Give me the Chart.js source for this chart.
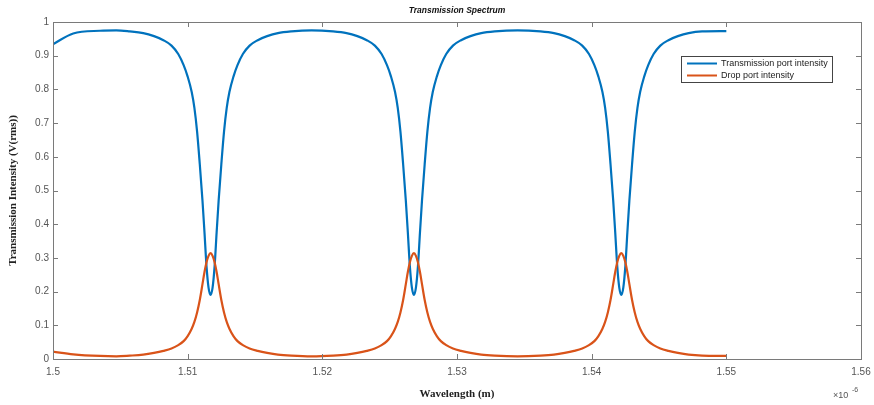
<!DOCTYPE html>
<html>
<head>
<meta charset="utf-8">
<script src="https://cdn.jsdelivr.net/npm/chart.js@4.4.1/dist/chart.umd.min.js"></script>
<style>
  html, body { margin: 0; padding: 0; background: #ffffff; }
  #wrap { width: 874px; height: 405px; position: relative; }
</style>
</head>
<body>
<div id="wrap"><canvas id="spec" width="874" height="405"></canvas></div>
<script>
// Wavelength samples (x 10^-6 m), denser around the three resonances
const wavelength = [
  1.5000, 1.5015, 1.5035, 1.5047,
  1.5057, 1.5067, 1.5075, 1.5082, 1.5088, 1.5093, 1.5097, 1.5100, 1.5103, 1.5105, 1.5107, 1.5109, 1.5111, 1.51125, 1.5114, 1.51155, 1.5117,
  1.51185, 1.5120, 1.51215, 1.5123, 1.5125, 1.5127, 1.5129, 1.5131, 1.5134, 1.5137, 1.5141, 1.5146, 1.5152, 1.5159, 1.5167, 1.5177,
  1.5192,
  1.5208, 1.5218, 1.5226, 1.5233, 1.5239, 1.5244, 1.5248, 1.5251, 1.5254, 1.5256, 1.5258, 1.5260, 1.5262, 1.52635, 1.5265, 1.52665, 1.5268,
  1.52695, 1.5271, 1.52725, 1.5274, 1.5276, 1.5278, 1.5280, 1.5282, 1.5285, 1.5288, 1.5292, 1.5297, 1.5303, 1.5310, 1.5318, 1.5328,
  1.5345,
  1.5362, 1.5372, 1.5380, 1.5387, 1.5393, 1.5398, 1.5402, 1.5405, 1.5408, 1.5410, 1.5412, 1.5414, 1.5416, 1.54175, 1.5419, 1.54205, 1.5422,
  1.54235, 1.5425, 1.54265, 1.5428, 1.5430, 1.5432, 1.5434, 1.5436, 1.5439, 1.5442, 1.5446, 1.5451, 1.5457, 1.5464, 1.5472, 1.5482,
  1.5500
];

// Through-port intensity
const transmission = [
  0.934, 0.966, 0.974, 0.975,
  0.972, 0.967, 0.958, 0.946, 0.930, 0.905, 0.872, 0.838, 0.792, 0.745, 0.675, 0.578, 0.470, 0.375, 0.275, 0.212, 0.190,
  0.212, 0.275, 0.375, 0.470, 0.578, 0.675, 0.745, 0.792, 0.838, 0.872, 0.905, 0.930, 0.946, 0.958, 0.967, 0.972,
  0.975,
  0.972, 0.967, 0.958, 0.946, 0.930, 0.905, 0.872, 0.838, 0.792, 0.745, 0.675, 0.578, 0.470, 0.375, 0.275, 0.212, 0.190,
  0.212, 0.275, 0.375, 0.470, 0.578, 0.675, 0.745, 0.792, 0.838, 0.872, 0.905, 0.930, 0.946, 0.958, 0.967, 0.972,
  0.975,
  0.972, 0.967, 0.958, 0.946, 0.930, 0.905, 0.872, 0.838, 0.792, 0.745, 0.675, 0.578, 0.470, 0.375, 0.275, 0.212, 0.190,
  0.212, 0.275, 0.375, 0.470, 0.578, 0.675, 0.745, 0.792, 0.838, 0.872, 0.905, 0.930, 0.946, 0.958, 0.967, 0.972,
  0.973
];

// Drop-port intensity
const drop = [
  0.022, 0.014, 0.009, 0.008,
  0.010, 0.013, 0.018, 0.024, 0.031, 0.041, 0.053, 0.068, 0.090, 0.110, 0.138, 0.175, 0.222, 0.258, 0.287, 0.306, 0.314,
  0.306, 0.287, 0.258, 0.222, 0.175, 0.138, 0.110, 0.090, 0.068, 0.053, 0.041, 0.031, 0.024, 0.018, 0.013, 0.010,
  0.008,
  0.010, 0.013, 0.018, 0.024, 0.031, 0.041, 0.053, 0.068, 0.090, 0.110, 0.138, 0.175, 0.222, 0.258, 0.287, 0.306, 0.314,
  0.306, 0.287, 0.258, 0.222, 0.175, 0.138, 0.110, 0.090, 0.068, 0.053, 0.041, 0.031, 0.024, 0.018, 0.013, 0.010,
  0.008,
  0.010, 0.013, 0.018, 0.024, 0.031, 0.041, 0.053, 0.068, 0.090, 0.110, 0.138, 0.175, 0.222, 0.258, 0.287, 0.306, 0.314,
  0.306, 0.287, 0.258, 0.222, 0.175, 0.138, 0.110, 0.090, 0.068, 0.053, 0.041, 0.031, 0.024, 0.018, 0.013, 0.010,
  0.009
];

const xTicks = [1.5, 1.51, 1.52, 1.53, 1.54, 1.55, 1.56];
const yTicks = [0, 0.1, 0.2, 0.3, 0.4, 0.5, 0.6, 0.7, 0.8, 0.9, 1];
const seriesNames = ['Transmission port intensity', 'Drop port intensity'];
const seriesColors = ['#0072BD', '#D95319'];

const BOX = '#7a7a7a';
const LABEL = '#555555';
const SANS = '"Liberation Sans", Arial, sans-serif';
const SERIF = '"Liberation Serif", "Times New Roman", serif';

function pts(ys) { return wavelength.map((w, i) => ({ x: w, y: ys[i] })); }

// Box, inward ticks on all four sides, title, legend and exponent label
const framePlugin = {
  id: 'frame',
  afterDatasetsDraw(chart) {
    const { ctx, chartArea: a, scales } = chart;
    const xs = scales.x, ys = scales.y;
    ctx.save();
    ctx.strokeStyle = BOX;
    ctx.lineWidth = 1;
    ctx.strokeRect(Math.round(a.left) + 0.5, Math.round(a.top) + 0.5,
                   Math.round(a.right - a.left), Math.round(a.bottom - a.top));
    const tl = 5;
    ctx.beginPath();
    xTicks.forEach(v => {
      const px = Math.round(xs.getPixelForValue(v)) + 0.5;
      ctx.moveTo(px, a.bottom); ctx.lineTo(px, a.bottom - tl);
      ctx.moveTo(px, a.top); ctx.lineTo(px, a.top + tl);
    });
    yTicks.forEach(v => {
      const py = Math.round(ys.getPixelForValue(v)) + 0.5;
      ctx.moveTo(a.left, py); ctx.lineTo(a.left + tl, py);
      ctx.moveTo(a.right, py); ctx.lineTo(a.right - tl, py);
    });
    ctx.stroke();

    // title
    ctx.fillStyle = '#111111';
    ctx.font = 'italic bold 8.5px ' + SANS;
    ctx.textAlign = 'center';
    ctx.textBaseline = 'middle';
    ctx.fillText('Transmission Spectrum', (a.left + a.right) / 2, 11);

    // exponent
    ctx.fillStyle = LABEL;
    ctx.textAlign = 'left';
    ctx.font = '9px ' + SANS;
    ctx.fillText('\u00d710', 833, 396);
    ctx.font = '7px ' + SANS;
    ctx.fillText('-6', 852, 390);

    // legend
    const lx = 681.5, ly = 56.5, lw = 151, lh = 26;
    ctx.fillStyle = '#ffffff';
    ctx.fillRect(lx, ly, lw, lh);
    ctx.strokeStyle = '#444444';
    ctx.lineWidth = 1;
    ctx.strokeRect(lx, ly, lw, lh);
    const rows = [63.5, 75.5];
    ctx.font = '9px ' + SANS;
    ctx.textBaseline = 'middle';
    seriesNames.forEach((name, i) => {
      ctx.strokeStyle = seriesColors[i];
      ctx.lineWidth = 2;
      ctx.beginPath();
      ctx.moveTo(687, rows[i]); ctx.lineTo(717, rows[i]);
      ctx.stroke();
      ctx.fillStyle = '#222222';
      ctx.fillText(name, 721, rows[i]);
    });
    ctx.restore();
  }
};

new Chart(document.getElementById('spec'), {
  type: 'line',
  data: {
    datasets: [
      { label: seriesNames[0], data: pts(transmission), borderColor: seriesColors[0],
        borderWidth: 2.2, pointRadius: 0, cubicInterpolationMode: 'monotone', order: 2 },
      { label: seriesNames[1], data: pts(drop), borderColor: seriesColors[1],
        borderWidth: 2.2, pointRadius: 0, cubicInterpolationMode: 'monotone', order: 1 }
    ]
  },
  options: {
    responsive: false,
    animation: false,
    layout: { padding: { left: 0, right: 13, top: 22, bottom: 0 } },
    plugins: { legend: { display: false }, title: { display: false }, tooltip: { enabled: false } },
    scales: {
      x: {
        type: 'linear', min: 1.5, max: 1.56,
        afterBuildTicks(s) { s.ticks = xTicks.map(v => ({ value: v })); },
        afterFit(s) { s.height = 46; s.paddingLeft = 0; s.paddingRight = 0; },
        grid: { display: false, drawTicks: false },
        border: { display: false },
        ticks: { padding: 7, color: LABEL, font: { family: SANS, size: 10 },
                 callback: v => String(Number(v.toFixed(2))), maxRotation: 0 },
        title: { display: true, text: 'Wavelength (m)', color: '#222222',
                 font: { family: SERIF, size: 11, weight: 'bold' }, padding: { top: 0, bottom: 4 } }
      },
      y: {
        min: 0, max: 1,
        afterBuildTicks(s) { s.ticks = yTicks.map(v => ({ value: v })); },
        afterFit(s) { s.width = 53; s.paddingTop = 0; s.paddingBottom = 0; },
        grid: { display: false, drawTicks: false },
        border: { display: false },
        ticks: { padding: 4, color: LABEL, font: { family: SANS, size: 10 },
                 callback: v => String(Number(v.toFixed(1))) },
        title: { display: true, text: 'Transmission Intensity (V(rms))', color: '#222222',
                 font: { family: SERIF, size: 11, weight: 'bold' }, padding: { top: 7, bottom: 0 } }
      }
    }
  },
  plugins: [framePlugin]
});
</script>
</body>
</html>
